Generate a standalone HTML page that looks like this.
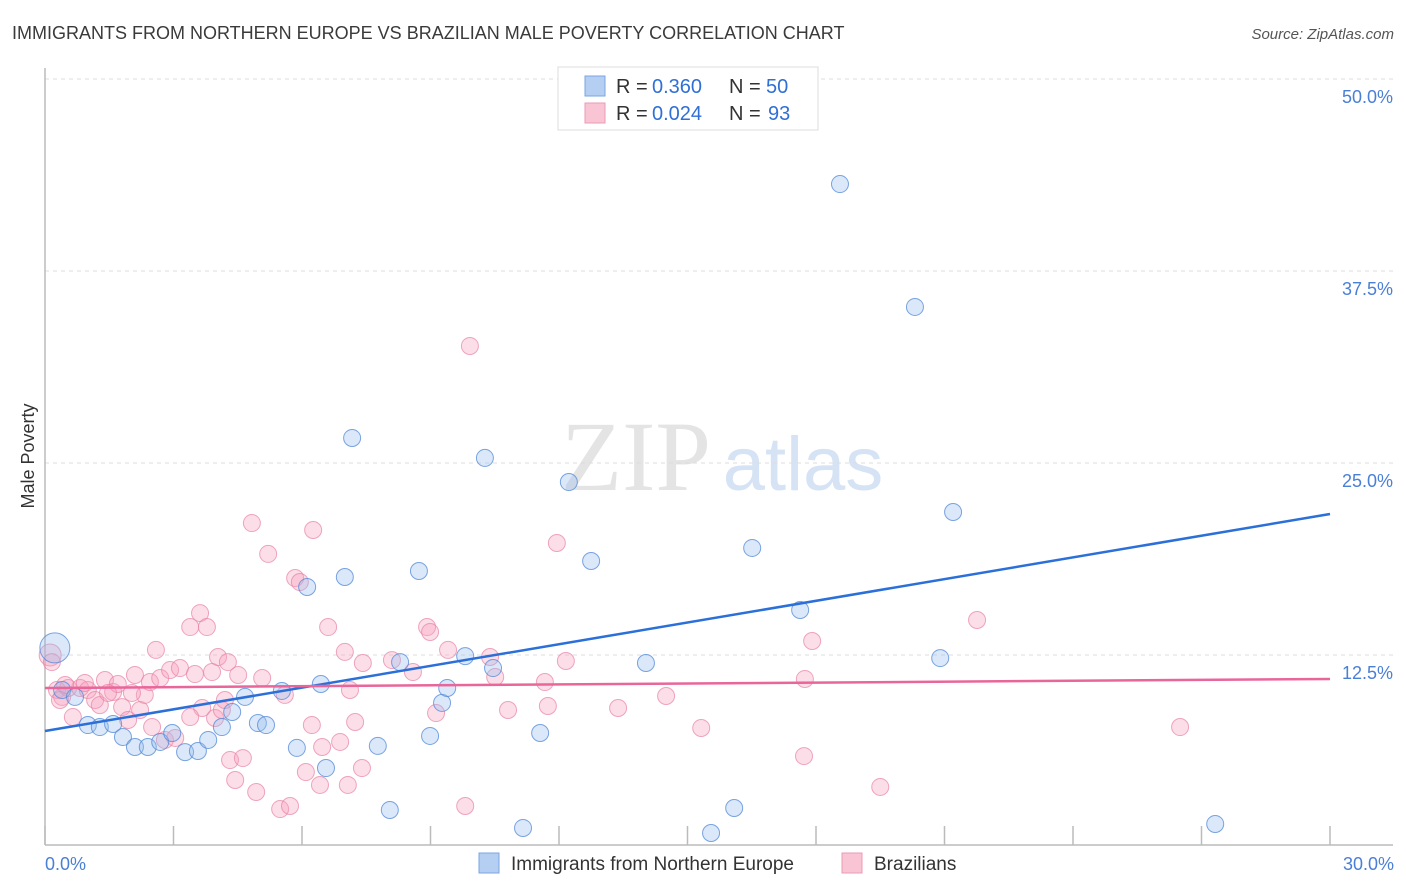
<!DOCTYPE html>
<html><head><meta charset="utf-8"><style>
body{margin:0;background:#fff;font-family:"Liberation Sans",sans-serif}
svg{display:block}
</style></head><body>
<svg width="1406" height="892" viewBox="0 0 1406 892">
<text x="12" y="39" font-size="18" fill="#3a3a3a">IMMIGRANTS FROM NORTHERN EUROPE VS BRAZILIAN MALE POVERTY CORRELATION CHART</text>
<text x="1394" y="39" font-size="15" fill="#555" font-style="italic" text-anchor="end">Source: ZipAtlas.com</text>
<g>
<text x="636" y="490" font-size="100" font-family="Liberation Serif,serif" fill="#e4e4e4" text-anchor="middle">ZIP</text>
<text x="803" y="490" font-size="76" fill="#d5e3f5" text-anchor="middle">atlas</text>
</g>
<g id="grid"></g>
<g id="axes"></g>
<g id="marks"></g>
<text x="34" y="456" font-size="18" fill="#333" text-anchor="middle" transform="rotate(-90 34 456)">Male Poverty</text>
<text x="45" y="870" font-size="18" fill="#4a7fd6">0.0%</text>
<text x="1394" y="870" font-size="18" fill="#4a7fd6" text-anchor="end">30.0%</text>
<g>
<rect x="558" y="67" width="260" height="63" fill="#fff" stroke="#ddd"/>
<rect x="585" y="76" width="20" height="20" fill="#b4cff2" stroke="#7aa6e3"/>
<rect x="585" y="103" width="20" height="20" fill="#f9c5d5" stroke="#eb9ab5"/>
<text x="616" y="93" font-size="20" fill="#333">R =</text>
<text x="652" y="93" font-size="20" fill="#2f6fd6">0.360</text>
<text x="729" y="93" font-size="20" fill="#333">N =</text>
<text x="766" y="93" font-size="20" fill="#2f6fd6">50</text>
<text x="616" y="120" font-size="20" fill="#333">R =</text>
<text x="652" y="120" font-size="20" fill="#2f6fd6">0.024</text>
<text x="729" y="120" font-size="20" fill="#333">N =</text>
<text x="768" y="120" font-size="20" fill="#2f6fd6">93</text>
</g>
<g>
<rect x="479" y="853" width="20" height="20" fill="#b4cff2" stroke="#7aa6e3"/>
<text x="511" y="870" font-size="19" fill="#333">Immigrants from Northern Europe</text>
<rect x="842" y="853" width="20" height="20" fill="#f9c5d5" stroke="#eb9ab5"/>
<text x="874" y="870" font-size="19" fill="#333">Brazilians</text>
</g>
</svg>
<script>
const yTicks=[12.5,25,37.5,50];
const yTickLabels=["12.5%","25.0%","37.5%","50.0%"];
const xTicks=[0,3,6,9,12,15,18,21,24,27,30];
const blueX=[0.23,0.40,0.70,1.00,1.28,1.59,1.82,2.10,2.40,2.69,2.97,3.27,3.57,3.81,4.13,4.37,4.67,4.97,5.16,5.53,5.88,6.12,6.44,6.56,7.00,7.17,7.77,8.05,8.29,8.73,8.99,9.27,9.39,9.81,10.27,10.46,11.16,11.56,12.23,12.75,14.03,15.55,16.09,16.51,17.63,18.56,20.31,20.90,21.20,27.32];
const blueY=[12.96,10.22,9.77,7.94,7.81,8.01,7.16,6.51,6.51,6.84,7.42,6.18,6.25,6.97,7.81,8.79,9.77,8.07,7.94,10.16,6.45,16.93,10.61,5.14,17.58,26.63,6.58,2.41,12.04,17.97,7.23,9.38,10.35,12.43,25.33,11.65,1.24,7.42,23.76,18.62,11.98,0.91,2.54,19.47,15.43,43.16,35.16,12.30,21.81,1.50];
const pinkX=[0.12,0.16,0.28,0.40,0.54,0.65,0.82,1.00,1.17,1.28,1.40,1.59,1.70,1.80,1.94,2.10,2.22,2.33,2.45,2.50,2.59,2.69,2.80,2.92,3.04,3.15,3.39,3.50,3.62,3.67,3.78,3.90,3.97,4.04,4.13,4.27,4.32,4.44,4.51,4.62,4.83,4.93,5.07,5.21,5.49,5.60,5.72,5.84,5.95,6.09,6.23,6.26,6.42,6.47,6.61,6.89,7.00,7.07,7.12,7.24,7.40,7.42,8.10,8.59,8.92,8.99,9.13,9.41,9.81,9.92,10.39,10.51,10.81,11.67,11.74,11.95,12.16,13.38,14.50,15.32,17.72,17.74,17.91,19.50,21.76,26.50,0.47,0.93,1.47,2.03,3.39,4.20,0.35];
const pinkY=[12.50,12.04,10.22,9.77,10.35,8.46,10.35,10.22,9.57,9.24,10.87,10.09,10.61,9.11,8.27,11.20,8.92,9.90,10.74,7.81,12.83,11.00,6.97,11.52,7.10,11.65,14.32,11.26,15.23,9.05,14.32,11.39,8.40,12.37,8.92,12.04,5.66,4.36,11.20,5.79,21.09,3.58,11.00,19.08,2.47,9.90,2.67,17.51,17.25,4.88,7.94,20.64,4.04,6.51,14.32,6.84,12.70,4.04,10.22,8.14,5.14,11.98,12.17,11.39,14.32,14.00,8.72,12.83,2.67,32.62,12.37,11.07,8.92,10.74,9.18,19.79,12.11,9.05,9.83,7.75,5.92,10.94,13.41,3.91,14.78,7.81,10.55,10.68,10.03,10.03,8.46,9.57,9.57];
const blueTrend=[7.55,21.68];
const pinkTrend=[10.35,10.94];
const NS='http://www.w3.org/2000/svg';
const xs=v=>45+v*(1285/30);
const ys=v=>847-v*15.36;
function mk(tag,attrs,parent){const e=document.createElementNS(NS,tag);for(const k in attrs)e.setAttribute(k,attrs[k]);parent.appendChild(e);return e;}
const grid=document.getElementById('grid'),axes=document.getElementById('axes'),marks=document.getElementById('marks');
yTicks.forEach((t,i)=>{
 const l=mk('line',{x1:45,x2:1393,y1:ys(t),y2:ys(t),stroke:'#ddd','stroke-dasharray':'4,4'},grid);
 
 
 const tx=mk('text',{x:1393,y:ys(t)+24,'font-size':18,fill:'#4a7fd6','text-anchor':'end'},grid);
 tx.textContent=yTickLabels[i];
 
 
});
mk('line',{x1:45,x2:45,y1:68,y2:845,stroke:'#bbb','stroke-width':1.5},axes);
mk('line',{x1:45,x2:1393,y1:845,y2:845,stroke:'#bbb','stroke-width':1.5},axes);
xTicks.forEach(t=>{
 const l=mk('line',{x1:xs(t),x2:xs(t),y1:826,y2:845,stroke:'#bbb','stroke-width':1.5},axes);
 
 
});
pinkX.forEach((x,i)=>{
 const c=mk('circle',{cx:xs(x),cy:ys(pinkY[i]),r:i<1?11:8.5,fill:'rgba(245,160,188,0.35)',stroke:'rgba(232,130,165,0.7)','stroke-width':1},marks);
 
 
});
blueX.forEach((x,i)=>{
 const c=mk('circle',{cx:xs(x),cy:ys(blueY[i]),r:i<1?15:8.5,fill:'rgba(150,190,238,0.35)',stroke:'rgba(80,135,215,0.75)','stroke-width':1},marks);
 
 
});
const bl=mk('line',{x1:xs(0),x2:xs(30),y1:ys(blueTrend[0]),y2:ys(blueTrend[1]),stroke:'#2b6fd8','stroke-width':2.5},marks);


const pl=mk('line',{x1:xs(0),x2:xs(30),y1:ys(pinkTrend[0]),y2:ys(pinkTrend[1]),stroke:'#e8669a','stroke-width':2.5},marks);


</script>
</body></html>
